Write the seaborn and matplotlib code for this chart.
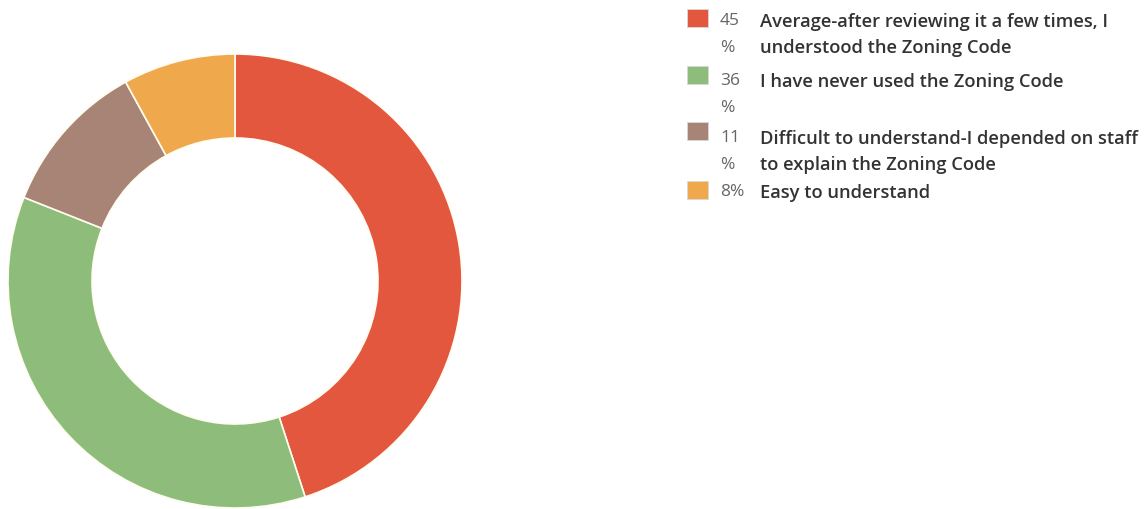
import matplotlib
matplotlib.use("Agg")
import matplotlib.pyplot as plt
from matplotlib.patches import Rectangle
import seaborn as sns

categories = [
    "Average-after reviewing it a few times, I\nunderstood the Zoning Code",
    "I have never used the Zoning Code",
    "Difficult to understand-I depended on staff\nto explain the Zoning Code",
    "Easy to understand",
]
values = [45, 36, 11, 8]
pct_labels = ["45\n%", "36\n%", "11\n%", "8%"]
colors = ["#E4573F", "#8EBD7B", "#A88476", "#F0A84C"]

sns.set_theme(style="white")
plt.rcParams["font.family"] = ["Open Sans", "DejaVu Sans"]

W, H = 1148, 510
fig = plt.figure(figsize=(W / 100, H / 100), dpi=100)
fig.patch.set_facecolor("white")

# donut
cx, cy, r = 235, 282, 227
ax = fig.add_axes([(cx - r) / W, (H - cy - r) / H, 2 * r / W, 2 * r / H])
ax.pie(values, colors=colors, startangle=90, counterclock=False, radius=1,
       wedgeprops=dict(width=0.37, edgecolor="#FFFDF0", linewidth=1.2))
ax.set_xlim(-1, 1)
ax.set_ylim(-1, 1)
ax.set_aspect("equal")
ax.axis("off")

# legend
sq_tops = [10, 67, 123, 182]
text_tops = [13, 73, 130, 184]
fs = 13.2
for i, (lab, pct, col) in enumerate(zip(categories, pct_labels, colors)):
    top = sq_tops[i]
    fig.patches.append(Rectangle((687 / W, (H - top - 18) / H), 21 / W, 18 / H,
                                 transform=fig.transFigure, facecolor=col,
                                 edgecolor="#d8d8d8", linewidth=0.6))
    y = (H - text_tops[i]) / H
    fig.text(720 / W, y, pct, fontsize=fs - 0.7, color="#666666", va="top",
             ha="left", linespacing=1.9, fontweight="normal",
             transform=fig.transFigure)
    fig.text(760 / W, y, lab, fontsize=fs, color="#333333", va="top",
             ha="left", linespacing=1.58, fontweight="semibold",
             transform=fig.transFigure)

fig.savefig("out.png", dpi=100, facecolor="white")
